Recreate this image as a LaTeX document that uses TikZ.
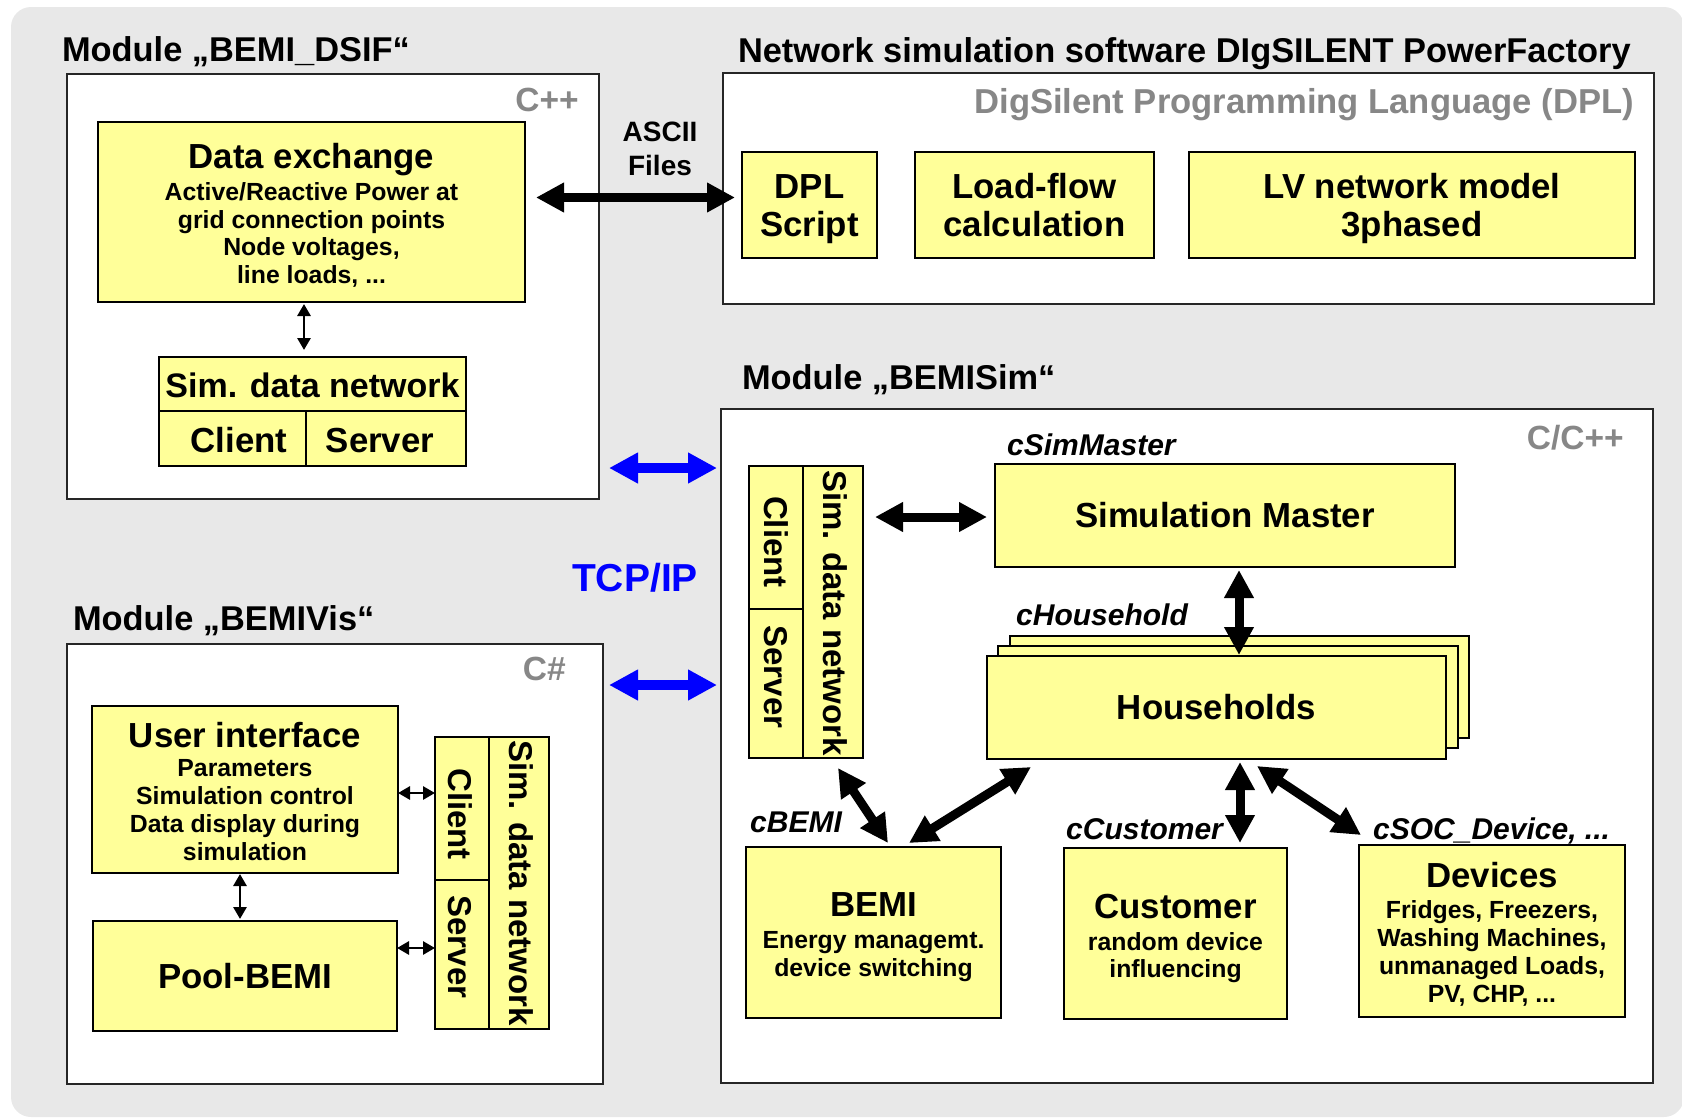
\documentclass[tikz,border=0pt]{standalone}
\usepackage{fontspec}
\setmainfont{Liberation Sans}
\usetikzlibrary{arrows.meta,calc,fit}
\definecolor{bgray}{HTML}{E8E8E8}
\definecolor{yfill}{HTML}{FFFF99}
\definecolor{tgray}{HTML}{878787}
\definecolor{tblue}{HTML}{0000FF}
\begin{document}
\begin{tikzpicture}[x=1pt,y=-1pt,
  modbox/.style={draw=black!85, line width=2.4pt, fill=white, inner sep=0pt, outer sep=0pt},
  ybox/.style={draw=black, line width=2.4pt, fill=yfill, inner sep=0pt, outer sep=0pt},
  divline/.style={draw=black, line width=2pt},
  txt/.style={inner sep=0pt, outer sep=0pt, font=\bfseries\fontsize{34.8}{40}\selectfont},
  ttl/.style={txt, anchor=base},
  subt/.style={inner sep=0pt, outer sep=0pt, anchor=base, font=\bfseries\fontsize{24.8}{28}\selectfont},
  modt/.style={inner sep=0pt, outer sep=0pt, anchor=base west, font=\bfseries\fontsize{34.4}{40}\selectfont},
  lang/.style={inner sep=0pt, anchor=base east, text=tgray, font=\bfseries\fontsize{33.5}{38}\selectfont},
  cls/.style={inner sep=0pt, anchor=base west, font=\bfseries\itshape\fontsize{30}{34}\selectfont},
  asc/.style={inner sep=0pt, anchor=base, font=\bfseries\fontsize{28}{32}\selectfont},
  rottxt/.style={inner sep=0pt, rotate=-90, font=\bfseries\fontsize{33}{38}\selectfont},
  bigarr/.style={draw=black, line width=9pt, {Triangle[length=28pt,width=28pt]}-{Triangle[length=28pt,width=28pt]}},
  smallarr/.style={draw=black, line width=2.8pt, {Triangle[length=12pt,width=13pt]}-{Triangle[length=12pt,width=13pt]}},
  tcparr/.style={draw=tblue, line width=10pt, {Triangle[length=29pt,width=29pt]}-{Triangle[length=29pt,width=29pt]}},
]
\useasboundingbox (0,0) rectangle (1682,1117);
\fill[bgray, rounded corners=20pt] (11,7) rectangle (1684,1117);

% ---------- Module BEMI_DSIF ----------
\node[modt] (tdsif) at (62,61) {Module „BEMI\_DSIF“};
\node[modbox, fit={(67,74) (599,499)}] (dsif) {};
\node[lang] (lcpp) at (579,111) {C++};
\node[ybox, fit={(98,122) (525,302)}] (dx) {};
\node[ttl] (dxt) at (311.5,168) {Data exchange};
\node[subt] (dx1) at (311.5,200) {Active/Reactive Power at};
\node[subt] (dx2) at (311.5,228) {grid connection points};
\node[subt] (dx3) at (311.5,255) {Node voltages,};
\node[subt] (dx4) at (311.5,283) {line loads, ...};
\node[ybox, fit={(159,357) (466,466)}] (sn1) {};
\draw[divline] ($(sn1.north west)+(0,54)$) -- ($(sn1.north east)+(0,54)$);
\draw[divline] ($(sn1.north west)+(147,54)$) -- ($(sn1.south west)+(147,0)$);
\node[ttl, font=\bfseries\fontsize{34}{40}\selectfont] (sn1t) at (312.5,397) {Sim. data network};
\node[ttl] (sn1c) at (239,452) {Client};
\node[ttl] (sn1s) at (380,452) {Server};
\draw[smallarr] ($(dx.south)+(-7.5,2)$) -- ($(sn1.north)+(-8.5,-7)$);

% ---------- ASCII ----------
\node[asc] (asc1) at (660,141) {ASCII};
\node[asc] (asc2) at (660,175) {Files};

% ---------- Network simulation ----------
\node[modt] (tnet) at (738,62) {Network simulation software DIgSILENT PowerFactory};
\node[modbox, fit={(723,73) (1654,304)}] (net) {};
\node[lang, font=\bfseries\fontsize{34.6}{40}\selectfont] (ldpl) at (1634,113) {DigSilent Programming Language (DPL)};
\node[ybox, fit={(742,152) (877,258)}] (dpl) {};
\node[ttl] (dplt1) at (809.5,198) {DPL};
\node[ttl] (dplt2) at (809.5,236) {Script};
\node[ybox, fit={(915,152) (1154,258)}] (lf) {};
\node[ttl] (lft1) at (1034.5,198) {Load-flow};
\node[ttl] (lft2) at (1034.5,236) {calculation};
\node[ybox, fit={(1189,152) (1635,258)}] (lv) {};
\node[ttl] (lvt1) at (1412,198) {LV network model};
\node[ttl] (lvt2) at (1412,236) {3phased};
\draw[bigarr] ($(dx.east)+(11,-14.5)$) -- ($(dpl.west)+(-7,-7.5)$);

% ---------- Module BEMISim ----------
\node[modt] (tsim) at (742,389) {Module „BEMISim“};
\node[modbox, fit={(721,409) (1653,1083)}] (sim) {};
\node[lang] (lcc) at (1624,449) {C/C++};
\node[cls] (lsm) at (1007,455) {cSimMaster};
\node[ybox, fit={(995,464) (1455,567)}] (sm) {};
\node[txt] (smt) at (sm.center) {Simulation Master};
\node[ybox, fit={(749,466) (863,758)}] (ssn) {};
\draw[divline] ($(ssn.north west)+(54,0)$) -- ($(ssn.south west)+(54,0)$);
\draw[divline] ($(ssn.north west)+(0,143)$) -- ($(ssn.north west)+(54,143)$);
\node[rottxt] (ssnc) at (776,542) {Client};
\node[rottxt] (ssns) at (776,677) {Server};
\node[rottxt] (ssnt) at (835,613) {Sim. data network};
\draw[bigarr] ($(ssn.east)+(12,-95)$) -- ($(sm.west)+(-8,1.5)$);
\node[cls] (lhh) at (1016,625) {cHousehold};
\node[ybox, fit={(1010,636) (1469,738)}] (hh3) {};
\node[ybox, fit={(998,646) (1458,748)}] (hh2) {};
\node[ybox, fit={(987,656) (1446,759)}] (hh1) {};
\node[txt] (hht) at (hh1.center) {Households};
\draw[bigarr] ($(sm.south)+(14,3)$) -- ($(hh1.north)+(22.5,-1)$);
\node[cls] (lbem) at (750,832) {cBEMI};
\node[cls] (lcust) at (1066,839) {cCustomer};
\node[cls] (ldev) at (1373,839) {cSOC\_Device, ...};
\node[ybox, fit={(746,847) (1001,1018)}] (bem) {};
\node[ttl] (bemt1) at (873.5,916) {BEMI};
\node[subt] (bemt2) at (873.5,948) {Energy managemt.};
\node[subt] (bemt3) at (873.5,976) {device switching};
\node[ybox, fit={(1064,848) (1287,1019)}] (cust) {};
\node[ttl] (custt1) at (1175.5,918) {Customer};
\node[subt] (custt2) at (1175.5,950) {random device};
\node[subt] (custt3) at (1175.5,977) {influencing};
\node[ybox, fit={(1359,845) (1625,1017)}] (dev) {};
\node[ttl] (devt1) at (1492,887) {Devices};
\node[subt] (devt2) at (1492,918) {Fridges, Freezers,};
\node[subt] (devt3) at (1492,946) {Washing Machines,};
\node[subt] (devt4) at (1492,974) {unmanaged Loads,};
\node[subt] (devt5) at (1492,1002) {PV, CHP, ...};
\draw[bigarr] ($(ssn.south)+(32,10)$) -- ($(bem.north)+(14.5,-4)$);
\draw[bigarr] ($(hh1.south)+(-185.5,8)$) -- ($(bem.north)+(35.5,-4)$);
\draw[bigarr] ($(hh1.south)+(23.5,3)$) -- ($(cust.north)+(64.5,-5)$);
\draw[bigarr] ($(hh1.south)+(40.5,7)$) -- ($(dev.north)+(-131,-10)$);

% ---------- Module BEMIVis ----------
\node[modt] (tvis) at (73,630) {Module „BEMIVis“};
\node[modbox, fit={(67,644) (603,1084)}] (vis) {};
\node[lang] (lcs) at (566,680) {C\#};
\node[ybox, fit={(92,706) (398,873)}] (ui) {};
\node[ttl] (uit1) at (245,747) {User interface};
\node[subt] (uit2) at (245,776) {Parameters};
\node[subt] (uit3) at (245,804) {Simulation control};
\node[subt] (uit4) at (245,832) {Data display during};
\node[subt] (uit5) at (245,860) {simulation};
\node[ybox, fit={(93,921) (397,1031)}] (pool) {};
\node[txt] (poolt) at (pool.center) {Pool-BEMI};
\node[ybox, fit={(435,737) (549,1029)}] (vsn) {};
\draw[divline] ($(vsn.north west)+(54,0)$) -- ($(vsn.south west)+(54,0)$);
\draw[divline] ($(vsn.north west)+(0,143)$) -- ($(vsn.north west)+(54,143)$);
\node[rottxt] (vsnc) at (460,814) {Client};
\node[rottxt] (vsns) at (460,947) {Server};
\node[rottxt] (vsnt) at (521,883) {Sim. data network};
\draw[smallarr] ($(ui.south)+(-5,1)$) -- ($(pool.north)+(-5,-2)$);
\draw[smallarr] ($(ui.east)+(0,3.5)$) -- ($(vsn.west)+(0,-90)$);
\draw[smallarr] ($(pool.east)+(0,-28)$) -- ($(vsn.west)+(0,65)$);

% ---------- TCP/IP ----------
\node[inner sep=0pt, anchor=base, text=tblue, font=\bfseries\fontsize{39}{44}\selectfont] (tcp) at (635,591) {TCP/IP};
\draw[tcparr] ($(dsif.east)+(10,181.5)$) -- ($(sim.west)+(-4,-278)$);
\draw[tcparr] ($(vis.east)+(6,-179)$) -- ($(sim.west)+(-4,-61)$);
\end{tikzpicture}
\end{document}
